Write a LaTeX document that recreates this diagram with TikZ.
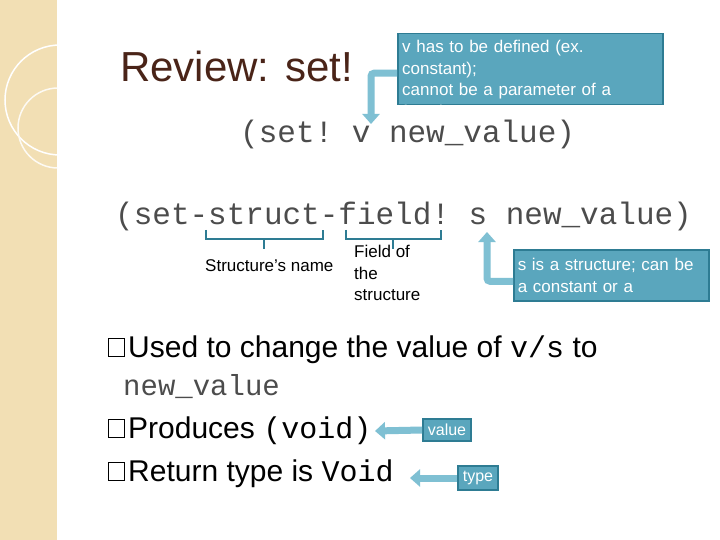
\documentclass[tikz,border=0pt]{standalone}
\usepackage{fontspec}
\setmainfont{Liberation Sans}
\setmonofont{Liberation Mono}
\usetikzlibrary{arrows.meta}
\definecolor{teal1}{HTML}{5AA6BD}
\definecolor{teal2}{HTML}{2E7C93}
\definecolor{beige}{HTML}{F2DFB4}
\definecolor{brown1}{HTML}{4A2418}
\definecolor{arrowc}{HTML}{7FC0D3}
\tikzset{
 callout/.style={fill=teal1,draw=teal2,line width=1.5pt,text=white,inner sep=4pt,font=\fontsize{16}{21}\selectfont,align=left,anchor=north west},
 blockarrow/.style={line width=7pt,draw=arrowc,-{Triangle[width=17pt,length=10pt]}},
 brace/.style={draw=teal2,line width=2pt},
 code/.style={font=\ttfamily\fontsize{31}{31}\selectfont,text=black!70,anchor=base west,inner sep=0pt},
 bul/.style={font=\fontsize{30}{30}\selectfont,anchor=base west,inner sep=0pt},
 lab/.style={font=\fontsize{17}{21.5}\selectfont,anchor=base west,inner sep=0pt,align=left}
}
\begin{document}
\begin{tikzpicture}[x=1pt,y=-1pt]
\useasboundingbox (0,0) rectangle (720,540);
\fill[white] (0,0) rectangle (720,540);
\fill[beige] (0,0) rectangle (57,540);
\begin{scope}
\clip (0,0) rectangle (57,540);
\draw[white,line width=1.5pt] (60,100) circle (55);
\draw[white!85!beige,line width=1.5pt] (58,128) circle (40);
\end{scope}
\node[font=\fontsize{42}{42}\selectfont,text=brown1,anchor=base west,inner sep=0] (title) at (120,82) {Review: set!};
% callout 1
\begin{scope}
\node[callout,minimum width=265pt,minimum height=71pt,text width=257pt,text depth=0pt] (c1) at (397,33) {};
\clip (c1.south west) rectangle (c1.north east);
\node[lab,text=white,text width=255pt] (c1t) at (402,53) {v has to be defined (ex.\\constant);\\cannot be a parameter of a\\function};
\end{scope}
\coordinate (a1) at (371,124);
\draw[blockarrow,rounded corners=3pt] ([yshift=-4pt]c1.west) -| (a1);
\node[code] (l1) at (240,143) {(set! v new\_value)};
\node[code] (l2) at (115,225) {(set-struct-field! s new\_value)};
% braces
\draw[brace] (206,230) -- (206,239) -- (323,239) -- (323,230);
\draw[brace] (264,239) -- (264,249);
\draw[brace] (346,230) -- (346,239) -- (441,239) -- (441,230);
\draw[brace] (393,239) -- (393,249);
\node[lab] (sn) at (205,271) {Structure’s name};
\node[lab,anchor=north west] (fo) at (354,245) {Field of\\the\\structure};
% callout 2
\node[callout,minimum width=195pt,minimum height=51pt,text width=187pt,font=\fontsize{17}{21.5}\selectfont] (c2) at (513,249) {s is a structure; can be\\a constant or a};
\coordinate (a2) at (487,232);
\draw[blockarrow,rounded corners=3pt] ([yshift=-6pt]c2.west) -| (a2);
% bullets
\draw[black,line width=0.7pt] (108,338) rectangle (124,356);
\node[bul] (b1) at (128,357) {Used to change the value of \texttt{v/s} to};
\node[code,font=\ttfamily\fontsize{29}{29}\selectfont] (b1b) at (123,395) {new\_value};
\draw[black,line width=0.7pt] (108,419) rectangle (124,437);
\node[bul] (b2) at (128,438) {Produces \texttt{(void)}};
\draw[black,line width=0.7pt] (108,462) rectangle (124,480);
\node[bul] (b3) at (128,481) {Return type is \texttt{Void}};
\node[callout,anchor=center,inner sep=5pt] (v) at (447,430) {value};
\node[callout,anchor=center,inner sep=5pt] (t) at (478,478) {type};
\coordinate (av) at (375,431);
\coordinate (at) at (410,478);
\draw[blockarrow] (v.west) -- (av);
\draw[blockarrow] (t.west) -- (at);
\end{tikzpicture}
\end{document}
